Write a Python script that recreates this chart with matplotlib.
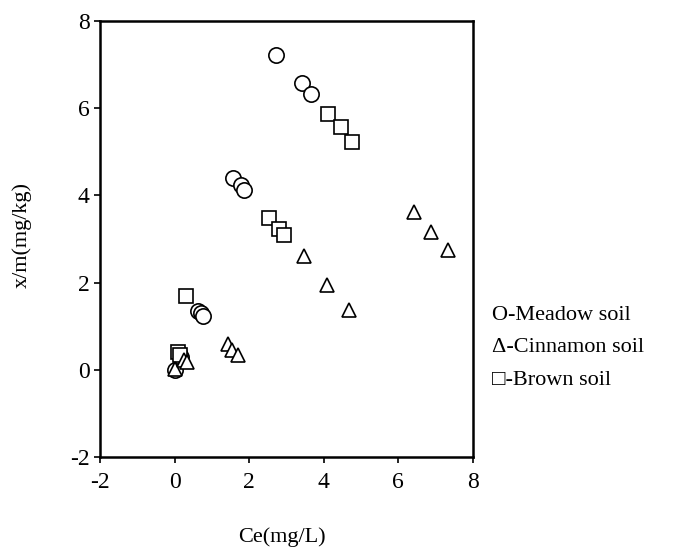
import numpy as np
import matplotlib.pyplot as plt

plt.rcParams['font.family'] = ['Liberation Serif', 'DejaVu Serif']
plt.rcParams['axes.unicode_minus'] = False

# Meadow soil (circles)
meadow_ce = [2.72, 3.42, 3.67, 1.57, 1.77, 1.86, 0.63, 0.70, 0.76, 0.02, 0.12, 0.18]
meadow_xm = [7.22, 6.57, 6.33, 4.40, 4.24, 4.12, 1.36, 1.31, 1.23, 0.00, 0.38, 0.30]

# Cinnamon soil (triangles)
cinn_ce = [6.43, 6.88, 7.33, 3.46, 4.09, 4.67, 1.44, 1.55, 1.69, 0.02, 0.25, 0.32]
cinn_xm = [3.63, 3.17, 2.75, 2.60, 1.94, 1.38, 0.59, 0.45, 0.33, 0.03, 0.22, 0.18]

# Brown soil (squares)
brown_ce = [4.11, 4.45, 4.76, 2.52, 2.80, 2.93, 0.30, 0.08, 0.15]
brown_xm = [5.87, 5.57, 5.22, 3.48, 3.23, 3.10, 1.69, 0.40, 0.35]

xticks = [-2, 0, 2, 4, 6, 8]
yticks = [-2, 0, 2, 4, 6, 8]

fig = plt.figure(figsize=(6.78, 5.54), dpi=100)
ax = fig.add_axes([0.1475, 0.175, 0.550, 0.787])

ax.plot(meadow_ce, meadow_xm, 'o', ms=11, mfc='white', mec='black', mew=1.2)
ax.plot(brown_ce, brown_xm, 's', ms=9.5, mfc='white', mec='black', mew=1.2)
ax.plot(cinn_ce, cinn_xm, '^', ms=10, mfc='white', mec='black', mew=1.2)

ax.set_xlim(-2, 8)
ax.set_ylim(-2, 8)
ax.set_xticks(xticks)
ax.set_yticks(yticks)
ax.tick_params(direction='out', length=4, width=1.2, labelsize=17)
ax.tick_params(axis='x', pad=7)
for s in ax.spines.values():
    s.set_linewidth(1.8)

fig.text(0.416, 0.030, 'Ce(mg/L)', ha='center', va='center', fontsize=16)
fig.text(0.032, 0.575, 'x/m(mg/kg)', ha='center', va='center', rotation=90, fontsize=16)

fig.text(0.726, 0.430, 'O-Meadow soil', ha='left', va='center', fontsize=16)
fig.text(0.726, 0.372, '\u0394-Cinnamon soil', ha='left', va='center', fontsize=16)
fig.text(0.726, 0.314, '\u25a1-Brown soil', ha='left', va='center', fontsize=16)

fig.savefig('out.png', dpi=100)
